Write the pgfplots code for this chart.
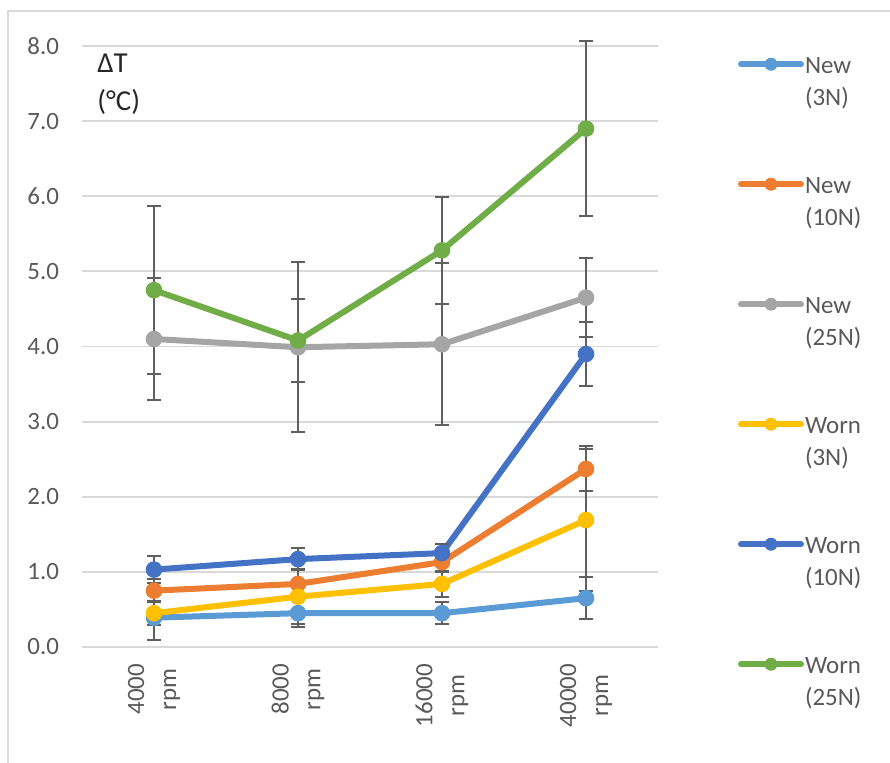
\documentclass[border=0pt]{standalone}
\usepackage{pgfplots}
\pgfplotsset{compat=1.18}
\usepackage{fontspec}
\setmainfont{Carlito}
\definecolor{cNewA}{HTML}{5B9BD5}
\definecolor{cNewB}{HTML}{ED7D31}
\definecolor{cNewC}{HTML}{A5A5A5}
\definecolor{cWornA}{HTML}{FFC000}
\definecolor{cWornB}{HTML}{4472C4}
\definecolor{cWornC}{HTML}{70AD47}
\definecolor{cText}{HTML}{595959}
\definecolor{cGrid}{HTML}{D9D9D9}
\definecolor{cErr}{HTML}{5F5F5F}
\begin{document}
\begin{tikzpicture}
\path[use as bounding box] (-41bp,-58bp) rectangle (404bp,323.5bp);
\draw[color=cGrid, line width=1.2bp] (-37bp,-70bp) -- (-37bp,318bp) -- (420bp,318bp);
\begin{axis}[
  at={(0,0)}, anchor=south west,
  scale only axis, width=288bp, height=300.5bp,
  xmin=-0.5, xmax=3.5, ymin=0, ymax=8,
  clip=false,
  xtick={0,1,2,3},
  xticklabels={{4000\\rpm},{8000\\rpm},{16000\\rpm},{40000\\rpm}},
  ytick={0,1,2,3,4,5,6,7,8},
  axis line style={draw=none},
  major tick length=0pt,
  tick style={draw=none},
  ymajorgrids,
  grid style={color=cGrid, line width=0.9bp},
  y tick label style={font=\fontsize{12.5}{15}\selectfont, text=cText,
     /pgf/number format/fixed, /pgf/number format/fixed zerofill,
     /pgf/number format/precision=1, /pgf/number format/assume math mode=true},
  yticklabel shift=8bp,
  xticklabel style={rotate=90, anchor=east, align=center, font=\fontsize{12.5}{16}\selectfont, text=cText},
  xticklabel shift=5bp,
  every axis plot/.append style={line width=3bp, mark=*, mark size=3.9bp,
     error bars/y dir=both, error bars/y explicit,
     error bars/error bar style={color=cErr, line width=1bp},
     error bars/error mark options={rotate=90, mark size=3.4bp, line width=1bp, color=cErr}},
  legend image code/.code={\draw[#1, line cap=round, mark repeat=2, mark phase=2, mark size=3bp] plot coordinates {(0bp,4.5bp) (15bp,4.5bp) (30bp,4.5bp)};},
  legend cell align=left,
  legend style={at={(rel axis cs:1.1389,0.988)}, anchor=north west, draw=none, fill=none,
     inner sep=0pt, outer sep=0pt, row sep=0pt, column sep=0.5bp,
     font=\fontsize{12.5}{16}\selectfont,
     cells={anchor=base west},
     nodes={inner sep=0pt, text height=10bp, text depth=50bp, anchor=base west, text=cText}},
]
\addplot[color=cNewA, mark options={fill=cNewA, draw=cNewA, line width=0.5bp}] coordinates {(0,0.39) +- (0,0.30) (1,0.45) +- (0,0.18) (2,0.45) +- (0,0.15) (3,0.65) +- (0,0.28)};
\addlegendentry{\begin{tabular}[t]{@{}l@{}}New\\(3N)\end{tabular}}
\addplot[color=cNewB, mark options={fill=cNewB, draw=cNewB, line width=0.5bp}] coordinates {(0,0.75) +- (0,0.15) (1,0.84) +- (0,0.18) (2,1.13) +- (0,0.13) (3,2.37) +- (0,0.30)};
\addlegendentry{\begin{tabular}[t]{@{}l@{}}New\\(10N)\end{tabular}}
\addplot[color=cNewC, mark options={fill=cNewC, draw=cNewC, line width=0.5bp}] coordinates {(0,4.10) +- (0,0.81) (1,3.99) +- (0,1.13) (2,4.03) +- (0,1.08) (3,4.65) +- (0,0.53)};
\addlegendentry{\begin{tabular}[t]{@{}l@{}}New\\(25N)\end{tabular}}
\addplot[color=cWornA, mark options={fill=cWornA, draw=cWornA, line width=0.5bp}] coordinates {(0,0.45) +- (0,0.16) (1,0.67) +- (0,0.37) (2,0.84) +- (0,0.17) (3,1.69) +- (0,0.95)};
\addlegendentry{\begin{tabular}[t]{@{}l@{}}Worn\\(3N)\end{tabular}}
\addplot[color=cWornB, mark options={fill=cWornB, draw=cWornB, line width=0.5bp}] coordinates {(0,1.03) +- (0,0.18) (1,1.17) +- (0,0.15) (2,1.25) +- (0,0.12) (3,3.90) +- (0,0.42)};
\addlegendentry{\begin{tabular}[t]{@{}l@{}}Worn\\(10N)\end{tabular}}
\addplot[color=cWornC, mark options={fill=cWornC, draw=cWornC, line width=0.5bp}] coordinates {(0,4.75) +- (0,1.12) (1,4.08) +- (0,0.55) (2,5.28) +- (0,0.71) (3,6.90) +- (0,1.16)};
\addlegendentry{\begin{tabular}[t]{@{}l@{}}Worn\\(25N)\end{tabular}}
\node[anchor=north west, align=left, inner sep=0pt, font=\fontsize{14.5}{19}\selectfont, text=black!85]
  at (rel axis cs:0.026,0.988) {ΔT\\(°C)};
\end{axis}
\end{tikzpicture}
\end{document}
